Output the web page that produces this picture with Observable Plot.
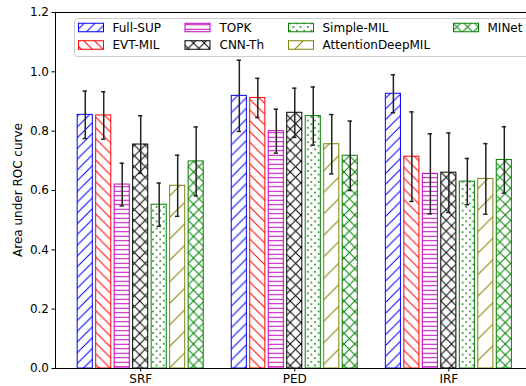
<!DOCTYPE html>
<html>
<head>
<meta charset="utf-8">
<script src="https://cdn.jsdelivr.net/npm/d3@7"></script>
<script src="https://cdn.jsdelivr.net/npm/@observablehq/plot@0.6"></script>
<style>
  html, body { margin: 0; padding: 0; background: #fff; overflow: hidden; }
  #chart { width: 526px; height: 386px; }
</style>
</head>
<body>
<div id="chart"></div>
<script>
// ---- data ----
const groups = ["SRF", "PED", "IRF"];
const methods = ["Full-SUP", "EVT-MIL", "TOPK", "CNN-Th", "Simple-MIL", "AttentionDeepMIL", "MINet"];
const fullSup = [0.855, 0.919, 0.926];
const evtMil = [0.853, 0.912, 0.714];
const topk = [0.620, 0.800, 0.656];
const cnnTh = [0.755, 0.862, 0.660];
const simpleMil = [0.552, 0.851, 0.630];
const attentionDeepMil = [0.616, 0.756, 0.639];
const miNet = [0.698, 0.717, 0.703];
const fullSupErr = [0.080, 0.120, 0.064];
const evtMilErr = [0.080, 0.066, 0.151];
const topkErr = [0.072, 0.074, 0.135];
const cnnThErr = [0.097, 0.083, 0.134];
const simpleMilErr = [0.073, 0.098, 0.078];
const attentionDeepMilErr = [0.103, 0.100, 0.119];
const miNetErr = [0.116, 0.117, 0.112];
const yTicks = [0, 0.2, 0.4, 0.6, 0.8, 1.0, 1.2];

// ---- styling ----
const colors = ["#0000ff", "#ff0000", "#bf00bf", "#000000", "#008000", "#808000", "#008000"];
const values = [fullSup, evtMil, topk, cnnTh, simpleMil, attentionDeepMil, miNet];
const errs = [fullSupErr, evtMilErr, topkErr, cnnThErr, simpleMilErr, attentionDeepMilErr, miNetErr];
const step = 0.12, halfW = 0.049, capW = 0.014;
const xMin = -0.553, xMax = 2.504;

const rows = [];
methods.forEach((m, mi) => groups.forEach((g, gi) => {
  rows.push({m, mi, g, gi, x: gi + (mi - 3) * step, v: values[mi][gi], e: errs[mi][gi]});
}));

const barMarks = methods.map((m, mi) => Plot.rect(rows.filter(d => d.mi === mi), {
  x1: d => d.x - halfW, x2: d => d.x + halfW, y1: 0, y2: "v",
  fill: `url(#hatch${mi})`, stroke: colors[mi], strokeWidth: 1
}));

const chart = Plot.plot({
  width: 526, height: 386,
  marginLeft: 55, marginRight: 0, marginTop: 12, marginBottom: 18,
  style: {fontSize: "12px", fontFamily: "DejaVu Sans, sans-serif", background: "#fff", color: "#000"},
  x: {type: "linear", domain: [xMin, xMax], ticks: [0, 1, 2], tickFormat: i => groups[i], label: null, tickSize: 3.5, tickPadding: 2},
  y: {domain: [0, 1.2], ticks: yTicks, tickFormat: d3.format(".1f"), label: null, tickSize: 3.5, tickPadding: 3},
  marks: [
    ...barMarks,
    Plot.ruleX(rows, {x: "x", y1: d => d.v - d.e, y2: d => d.v + d.e, stroke: "#222", strokeWidth: 1.5}),
    Plot.ruleY(rows, {y: d => d.v + d.e, x1: d => d.x - capW, x2: d => d.x + capW, stroke: "#222", strokeWidth: 1.5}),
    Plot.ruleY(rows, {y: d => d.v - d.e, x1: d => d.x - capW, x2: d => d.x + capW, stroke: "#222", strokeWidth: 1.5}),
    Plot.ruleY([0, 1.2], {stroke: "#000", strokeWidth: 1}),
    Plot.ruleX([xMin], {stroke: "#000", strokeWidth: 1})
  ]
});
document.getElementById("chart").appendChild(chart);

// ---- hatch patterns ----
const svg = d3.select(chart);
const defs = svg.insert("defs", ":first-child");
function pat(id, w, h, draw) {
  const p = defs.append("pattern").attr("id", id).attr("patternUnits", "userSpaceOnUse")
    .attr("width", w).attr("height", h);
  p.append("rect").attr("width", w).attr("height", h).attr("fill", "#fff");
  draw(p);
}
function slash(p, s, c) {
  p.append("path").attr("d", `M0,${s} L${s},0 M${-1},1 L1,${-1} M${s - 1},${s + 1} L${s + 1},${s - 1}`)
    .attr("stroke", c).attr("stroke-width", 1).attr("fill", "none");
}
function back(p, s, c) {
  p.append("path").attr("d", `M0,0 L${s},${s} M${-1},${s - 1} L1,${s + 1} M${s - 1},${-1} L${s + 1},1`)
    .attr("stroke", c).attr("stroke-width", 1).attr("fill", "none");
}
const s2 = 10.75;
pat("hatch0", s2, s2, p => slash(p, s2, colors[0]));
pat("hatch1", s2, s2, p => back(p, s2, colors[1]));
pat("hatch2", 10, 4.5, p => p.append("line").attr("x1", 0).attr("x2", 10).attr("y1", 2.25).attr("y2", 2.25)
  .attr("stroke", colors[2]).attr("stroke-width", 1));
pat("hatch3", s2, s2, p => { slash(p, s2, colors[3]); back(p, s2, colors[3]); });
pat("hatch4", 7.2, 7.2, p => {
  p.append("circle").attr("cx", 1.8).attr("cy", 1.8).attr("r", 0.9).attr("fill", colors[4]);
  p.append("circle").attr("cx", 5.4).attr("cy", 5.4).attr("r", 0.9).attr("fill", colors[4]);
});
pat("hatch5", 21.5, 21.5, p => slash(p, 21.5, colors[5]));
pat("hatch6", s2, s2, p => { slash(p, s2, colors[6]); back(p, s2, colors[6]); });

// ---- y label ----
svg.append("text")
  .attr("transform", "translate(18,190) rotate(-90)")
  .attr("text-anchor", "middle").attr("dominant-baseline", "middle")
  .attr("font-size", 12).attr("font-family", "DejaVu Sans, sans-serif")
  .text("Area under ROC curve");

// ---- legend ----
const leg = svg.append("g").attr("font-family", "DejaVu Sans, sans-serif").attr("font-size", 12)
  .attr("text-anchor", "start");
leg.append("rect").attr("x", 74.5).attr("y", 18.5).attr("width", 470).attr("height", 38)
  .attr("rx", 3).attr("fill", "#fff").attr("fill-opacity", 0.8).attr("stroke", "#ccc");
const colX = [78.5, 185, 288.5, 453.5];
const textX = [112.5, 219.5, 322.5, 487.5];
const rowY = [27.5, 45];
methods.forEach((m, mi) => {
  const c = Math.floor(mi / 2), r = mi % 2;
  leg.append("rect").attr("x", colX[c]).attr("y", rowY[r] - 4.25).attr("width", 25).attr("height", 8.5)
    .attr("fill", `url(#hatch${mi})`).attr("stroke", colors[mi]).attr("stroke-width", 1);
  leg.append("text").attr("x", textX[c]).attr("y", rowY[r]).attr("dy", "0.35em")
    .attr("text-anchor", "start").text(m);
});
</script>
</body>
</html>
